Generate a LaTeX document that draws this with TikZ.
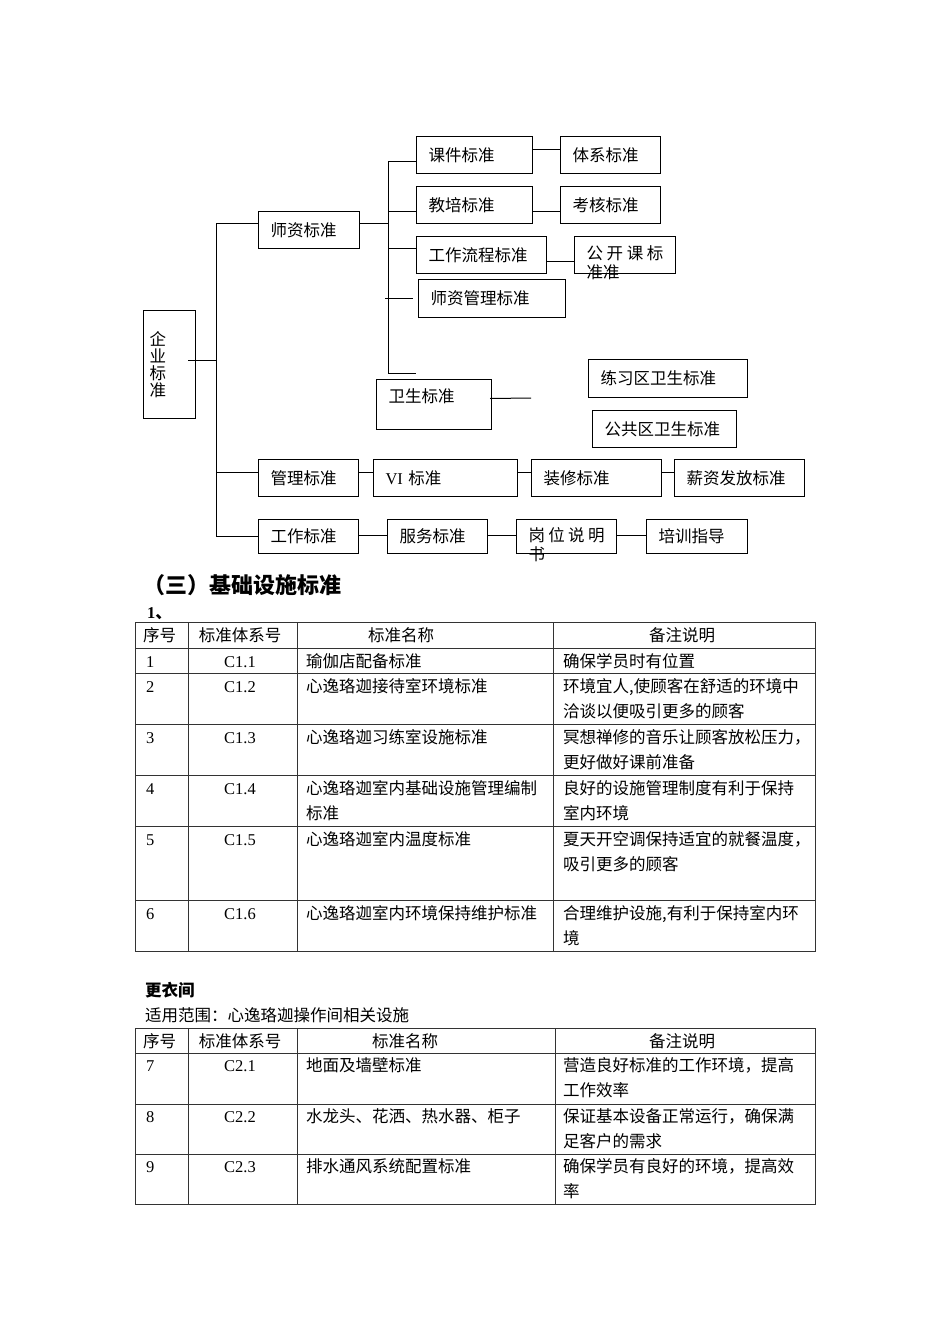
\documentclass[tikz,border=0pt]{standalone}
\usepackage{fontspec}
\setmainfont{Liberation Serif}
\newfontfamily\cjk{Noto Sans CJK SC}
\newcommand\cellt[1]{\begin{tabular}[t]{@{}l@{}}#1\end{tabular}}
\begin{document}
\begin{tikzpicture}[x=1pt,y=-1pt,
  bx/.style={draw,line width=1pt,anchor=north west,inner xsep=12pt,inner ysep=0pt,align=left,font=\cjk\fontsize{16.5}{19}\selectfont},
  ln/.style={line width=1pt},
  tl/.style={line width=1pt,black!80},
  cell/.style={anchor=base west,inner sep=0pt,font=\cjk\fontsize{16.5}{25}\selectfont}]
\path[fill=white,use as bounding box] (0,0) rectangle (950,1344);
% org chart
\node[bx,inner xsep=6pt,text width=40pt,minimum height=108pt,font=\cjk\fontsize{16.5}{17}\selectfont] (qy) at (143,310) {企\\业\\标\\准};
\node[bx,text width=77pt,minimum height=37pt] (sz) at (258,211) {师资标准};
\node[bx,text width=92pt,minimum height=37pt] (kj) at (416,136) {课件标准};
\node[bx,text width=76pt,minimum height=37pt] (tx) at (560,136) {体系标准};
\node[bx,text width=92pt,minimum height=37pt] (jp) at (416,186) {教培标准};
\node[bx,text width=76pt,minimum height=37pt] (kh) at (560,186) {考核标准};
\node[bx,text width=106pt,minimum height=37pt] (lc) at (416,236) {工作流程标准};
\node[bx,text width=77pt,minimum height=37pt,text depth=4pt] (gk) at (574,236) {公\hfill 开\hfill 课\hfill 标\\准准};
\node[bx,text width=123pt,minimum height=38pt] (gl) at (418,279) {师资管理标准};
\node[bx,text width=91pt,minimum height=50pt,text depth=18pt] (ws) at (376,379) {卫生标准};
\node[bx,text width=135pt,minimum height=38pt] (lx) at (588,359) {练习区卫生标准};
\node[bx,text width=120pt,minimum height=37pt] (gg) at (592,410) {公共区卫生标准};
\node[bx,text width=76pt,minimum height=37pt] (gm) at (258,459) {管理标准};
\node[bx,text width=120pt,minimum height=37pt] (vi) at (373,459) {{\rmfamily VI} 标准};
\node[bx,text width=106pt,minimum height=37pt] (zx) at (531,459) {装修标准};
\node[bx,text width=106pt,minimum height=37pt] (xz) at (674,459) {薪资发放标准};
\node[bx,text width=76pt,minimum height=34pt] (gz) at (258,519) {工作标准};
\node[bx,text width=76pt,minimum height=34pt] (fw) at (387,519) {服务标准};
\node[bx,text width=76pt,minimum height=34pt,text depth=4pt] (gw) at (516,519) {岗\hfill 位\hfill 说\hfill 明\\书};
\node[bx,text width=77pt,minimum height=34pt] (px) at (646,519) {培训指导};
\coordinate (tk) at (216,0);
\coordinate (br) at (388,0);
\coordinate (bend) at (416,373);
\coordinate (wsend) at (531,398);
\draw[ln] ([xshift=-8pt,yshift=4pt]qy.east) -- ++(29,0);
\draw[ln] ([yshift=6.5pt]sz.west) -| (tk |- gz.west) -- (gz.west);
\draw[ln] ([yshift=5.5pt]gm.west) -- ++(-42,0);
\draw[ln] ([yshift=6.5pt]sz.east) -- ++(29,0);
\draw[ln] ([yshift=-6.5pt]kj.west) -| (br |- bend) -- (bend);
\draw[ln] ([yshift=-6.5pt]jp.west) -- ++(-28,0);
\draw[ln] ([yshift=6.5pt]lc.west) -- ++(-28,0);
\draw[ln] ([xshift=-33pt]gl.west) -- ([xshift=-5pt]gl.west);
\draw[ln] ([yshift=5.5pt]kj.east) -- ([yshift=5.5pt]tx.west);
\draw[ln] ([yshift=-6.5pt]jp.east) -- ([yshift=-6.5pt]kh.west);
\draw[ln] ([yshift=-6.5pt]lc.east) -- ([yshift=-6.5pt]gk.west);
\draw[ln] ([xshift=-2pt,yshift=6pt]ws.east) -- (wsend);
\draw[ln] ([yshift=5.5pt]gm.east) -- ([yshift=5.5pt]vi.west);
\draw[ln] ([yshift=5.5pt]vi.east) -- ([yshift=5.5pt]zx.west);
\draw[ln] ([yshift=5.5pt]zx.east) -- ([yshift=5.5pt]xz.west);
\draw[ln] ([yshift=1pt]gz.east) -- ([yshift=1pt]fw.west);
\draw[ln] ([yshift=1pt]fw.east) -- ([yshift=1pt]gw.west);
\draw[ln] ([yshift=1pt]gw.east) -- ([yshift=1pt]px.west);
% headings
\node[cell,font=\cjk\bfseries\fontsize{22}{25}\selectfont] (ttl) at (143,593) {（三）基础设施标准};
\node[cell] (one) at (147,618) {\bfseries\rmfamily 1{\cjk 、}};
% table 1
\draw[tl] (135,622) rectangle (815,951);
\foreach \y in {648,673,724,775,826,900} \draw[tl] (135,\y) -- (815,\y);
\foreach \x in {188,297,553} \draw[tl] (\x,622) -- (\x,951);
\node[cell] (h1a) at (143,641) {序号};
\node[cell,anchor=base] (h1b) at (240,641) {标准体系号};
\node[cell] (h1c) at (368,641) {标准名称};
\node[cell,anchor=base] (h1d) at (682,641) {备注说明};
\foreach \n/\y in {1/648,2/673,3/724,4/775,5/826,6/900} {
  \node[cell] (no\n) at (146,\y+19) {\rmfamily\n};
  \node[cell,anchor=base] (cd\n) at (240,\y+19) {\rmfamily C1.\n};
}
\node[cell] (nm1) at (306,667) {瑜伽店配备标准};
\node[cell] (nm2) at (306,692) {心逸珞迦接待室环境标准};
\node[cell] (nm3) at (306,743) {心逸珞迦习练室设施标准};
\node[cell] (nm4) at (306,794) {\cellt{心逸珞迦室内基础设施管理编制\\标准}};
\node[cell] (nm5) at (306,845) {心逸珞迦室内温度标准};
\node[cell] (nm6) at (306,919) {心逸珞迦室内环境保持维护标准};
\node[cell] (bz1) at (563,667) {确保学员时有位置};
\node[cell] (bz2) at (563,692) {\cellt{环境宜人,使顾客在舒适的环境中\\洽谈以便吸引更多的顾客}};
\node[cell] (bz3) at (563,743) {\cellt{冥想禅修的音乐让顾客放松压力，\\更好做好课前准备}};
\node[cell] (bz4) at (563,794) {\cellt{良好的设施管理制度有利于保持\\室内环境}};
\node[cell] (bz5) at (563,845) {\cellt{夏天开空调保持适宜的就餐温度，\\吸引更多的顾客}};
\node[cell] (bz6) at (563,919) {\cellt{合理维护设施,有利于保持室内环\\境}};
% table 2
\node[cell,font=\cjk\bfseries\fontsize{16.5}{25}\selectfont] (gyj) at (145,996) {更衣间};
\node[cell] (fw2) at (145,1021) {适用范围：心逸珞迦操作间相关设施};
\draw[tl] (135,1028) rectangle (815,1204);
\foreach \y in {1053,1104,1154} \draw[tl] (135,\y) -- (815,\y);
\foreach \x in {188,297,555} \draw[tl] (\x,1028) -- (\x,1204);
\node[cell] (h2a) at (143,1047) {序号};
\node[cell,anchor=base] (h2b) at (240,1047) {标准体系号};
\node[cell] (h2c) at (372,1047) {标准名称};
\node[cell,anchor=base] (h2d) at (682,1047) {备注说明};
\foreach \n/\y in {7/1053,8/1104,9/1154} {
  \node[cell] (no\n) at (146,\y+18) {\rmfamily\n};
}
\foreach \n/\y in {1/1053,2/1104,3/1154} {
  \node[cell,anchor=base] (ce\n) at (240,\y+18) {\rmfamily C2.\n};
}
\node[cell] (nm7) at (306,1071) {地面及墙壁标准};
\node[cell] (nm8) at (306,1122) {水龙头、花洒、热水器、柜子};
\node[cell] (nm9) at (306,1172) {排水通风系统配置标准};
\node[cell] (bz7) at (563,1071) {\cellt{营造良好标准的工作环境，提高\\工作效率}};
\node[cell] (bz8) at (563,1122) {\cellt{保证基本设备正常运行，确保满\\足客户的需求}};
\node[cell] (bz9) at (563,1172) {\cellt{确保学员有良好的环境，提高效\\率}};
\end{tikzpicture}
\end{document}
